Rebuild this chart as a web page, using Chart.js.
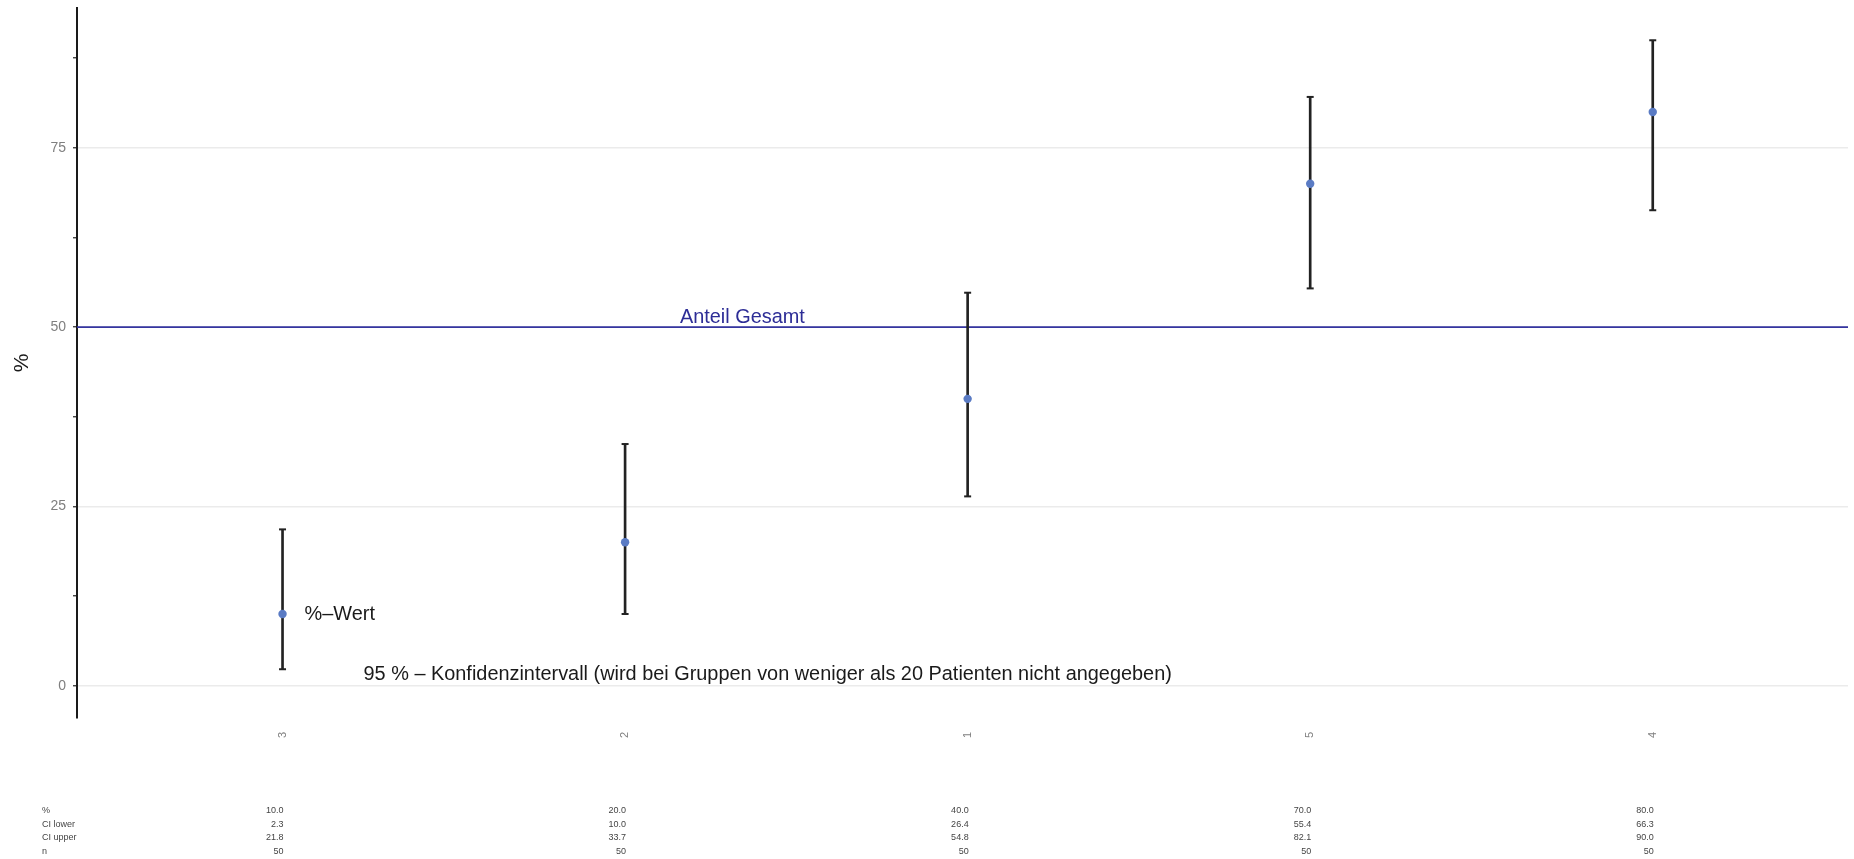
<!DOCTYPE html>
<html><head><meta charset="utf-8">
<script src="https://cdn.jsdelivr.net/npm/chart.js@4/dist/chart.umd.min.js"></script>
<style>html,body{margin:0;padding:0;background:#fff;overflow:hidden}#wrap{width:1854px;height:859px;position:relative}canvas{display:block}</style>
</head><body><div id="wrap"><canvas id="c" width="1854" height="859"></canvas></div>
<script>
const categories = ["3", "2", "1", "5", "4"];
const pctValues = [10.0, 20.0, 40.0, 70.0, 80.0];
const ciLower = [2.3, 10.0, 26.4, 55.4, 66.3];
const ciUpper = [21.8, 33.7, 54.8, 82.1, 90.0];
const nValues = [50, 50, 50, 50, 50];
const overallPct = 50;
const yMajorTicks = [0, 25, 50, 75];
const yMinorTicks = [12.5, 37.5, 62.5, 87.5];
const tableRowLabels = ["%", "CI lower", "CI upper", "n"];
const overallLabel = "Anteil Gesamt";
const pointLabel = "%–Wert";
const ciLabel = "95 % – Konfidenzintervall (wird bei Gruppen von weniger als 20 Patienten nicht angegeben)";

const xMin = 0.4, xMax = 5.57, yMin = -4.5, yMax = 94.5;
const FONT = "'Liberation Sans', Arial, Helvetica, sans-serif";
const xs = categories.map((_, i) => i + 1);

const annotations = {
  id: 'annotations',
  afterDatasetsDraw(chart) {
    const ctx = chart.ctx, x = chart.scales.x, y = chart.scales.y;
    ctx.save();
    ctx.font = '19.9px ' + FONT;
    ctx.textAlign = 'left';
    ctx.fillStyle = '#2d2d96';
    ctx.textBaseline = 'alphabetic';
    ctx.fillText(overallLabel, x.getPixelForValue(2.16), y.getPixelForValue(overallPct) - 4);
    ctx.fillStyle = '#1a1a1a';
    ctx.textBaseline = 'middle';
    ctx.fillText(pointLabel, x.getPixelForValue(xs[0]) + 22, y.getPixelForValue(pctValues[0]) + 1);
    ctx.fillText(ciLabel, x.getPixelForValue(xs[0]) + 81, y.getPixelForValue(0) - 11);
    ctx.restore();
  },
  afterDraw(chart) {
    const ctx = chart.ctx, x = chart.scales.x;
    const rows = [pctValues.map(v => v.toFixed(1)), ciLower.map(v => v.toFixed(1)), ciUpper.map(v => v.toFixed(1)), nValues.map(v => String(v))];
    const rowY = [811, 824.5, 838, 851.5];
    ctx.save();
    ctx.font = '9px ' + FONT;
    ctx.fillStyle = '#444';
    ctx.textBaseline = 'middle';
    rows.forEach((r, ri) => {
      ctx.textAlign = 'left';
      ctx.fillText(tableRowLabels[ri], 42, rowY[ri]);
      ctx.textAlign = 'right';
      r.forEach((t, i) => ctx.fillText(t, x.getPixelForValue(xs[i]) + 1, rowY[ri]));
    });
    ctx.restore();
  }
};

new Chart(document.getElementById('c'), {
  type: 'scatter',
  data: {
    datasets: [
      {
        type: 'line', order: 4,
        data: [{x: xMin, y: overallPct}, {x: xMax, y: overallPct}],
        borderColor: '#3535a0', borderWidth: 1.6, pointRadius: 0, showLine: true, fill: false
      },
      {
        type: 'bar', order: 3,
        data: xs.map((xv, i) => ({x: xv, y: [ciLower[i], ciUpper[i]]})),
        backgroundColor: '#222', borderWidth: 0, barThickness: 2
      },
      {
        type: 'scatter', order: 2,
        data: xs.flatMap((xv, i) => [{x: xv, y: ciLower[i]}, {x: xv, y: ciUpper[i]}]),
        pointStyle: 'line', pointRadius: 3.5, pointBorderWidth: 2, pointBorderColor: '#222', pointBackgroundColor: '#222'
      },
      {
        type: 'scatter', order: 1,
        data: xs.map((xv, i) => ({x: xv, y: pctValues[i]})),
        pointRadius: 4.2, pointBorderWidth: 0, pointBackgroundColor: '#5a7bc4'
      }
    ]
  },
  options: {
    responsive: false, animation: false, devicePixelRatio: 1,
    layout: {padding: {top: 8, right: 0, left: 0, bottom: 0}},
    plugins: {legend: {display: false}, tooltip: {enabled: false}},
    scales: {
      x: {
        type: 'linear', min: xMin, max: xMax, offset: false,
        afterBuildTicks: s => { s.ticks = xs.map(v => ({value: v})); },
        afterFit: s => { s.height = 141; s.paddingLeft = 0; s.paddingRight = 0; },
        grid: {display: false, drawTicks: false},
        border: {display: false},
        ticks: {
          callback: v => categories[Math.round(v) - 1] ?? '',
          minRotation: 90, maxRotation: 90, autoSkip: false,
          padding: 14, color: '#7f7f7f', font: {size: 11, family: FONT}
        }
      },
      y: {
        type: 'linear', min: yMin, max: yMax,
        afterBuildTicks: s => { s.ticks = [...yMajorTicks, ...yMinorTicks].sort((a, b) => a - b).map(v => ({value: v})); },
        afterFit: s => { s.width = 77; s.paddingTop = 0; s.paddingBottom = 0; },
        grid: {
          color: c => yMajorTicks.includes(c.tick && c.tick.value) ? '#ebebeb' : 'rgba(0,0,0,0)',
          lineWidth: 1.5, tickLength: 4, tickColor: '#333', tickWidth: 1.3, drawTicks: true
        },
        border: {display: true, color: '#1a1a1a', width: 2},
        ticks: {
          callback: v => yMajorTicks.includes(v) ? String(v) : '',
          padding: 7, color: '#7f7f7f', font: {size: 14, family: FONT}, autoSkip: false
        },
        title: {display: true, text: '%', color: '#1a1a1a', font: {size: 21, family: FONT}, padding: {top: 10, bottom: 0}}
      }
    }
  },
  plugins: [annotations]
});
</script>
</body></html>
